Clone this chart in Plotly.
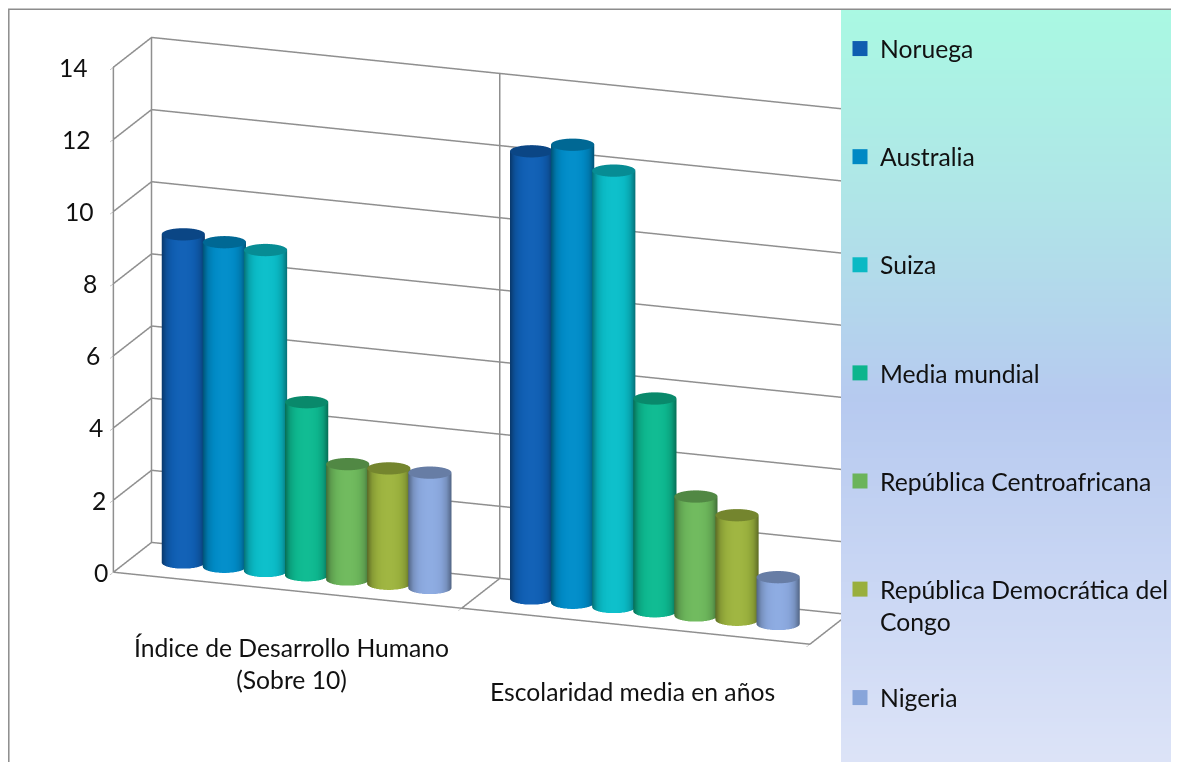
import numpy as np
import plotly.graph_objects as go

FW, FH = 1171, 754   # the page adds an 8 px body margin
W, H = 1179, 762
categories = ["Índice de Desarrollo Humano<br>(Sobre 10)", "Escolaridad media en años"]
series = ["Noruega", "Australia", "Suiza", "Media mundial", "República Centroafricana",
          "República Democrática del<br>Congo", "Nigeria"]
idh = [9.1, 9.0, 8.9, 4.8, 3.2, 3.2, 3.2]
escolaridad = [12.4, 12.7, 12.1, 5.9, 3.3, 2.9, 1.3]
colors = ["#0F5DB0", "#0089C4", "#0AB9C4", "#0DB58D", "#6BB45A", "#99AF3D", "#88A5DA"]
z_ticks = [0, 2, 4, 6, 8, 10, 12, 14]
FONT = "Lato"
FS = 24.7
INK = "#111111"
GRID = "#8f8f8f"


def px(x):
    return (x - 8) / FW


def py(y):
    return 1 - (y - 8) / FH


def rgb(h):
    return np.array([int(h[i:i + 2], 16) for i in (1, 3, 5)], float)


def css(c):
    return "rgb(%d,%d,%d)" % tuple(np.clip(c, 0, 255))


azim = np.radians(20)
elev = np.radians(16.5)
eye_len = 2.0
S = 375.5
dx, dy = 56 / S, 44 / S
view = np.array([np.sin(azim) * np.cos(elev), -np.cos(azim) * np.cos(elev), np.sin(elev)])
right = np.array([np.cos(azim), np.sin(azim), 0])
upv = np.array([-np.sin(elev) * np.sin(azim), np.sin(elev) * np.cos(azim), np.cos(elev)])
cen = -dx * right - dy * upv
eyep = cen + eye_len * view

fig = go.Figure()

# wall and floor rules, built from the axis ticks
gx, gy, gz = [], [], []


def seg(*pts):
    for p in pts:
        gx.append(p[0]); gy.append(p[1]); gz.append(p[2])
    gx.append(None); gy.append(None); gz.append(None)


for t in z_ticks:
    seg((0, 0, t), (0, 1, t), (2, 1, t))
top = z_ticks[-1]
seg((0, 0, 0), (0, 0, top))
seg((0, 1, 0), (0, 1, top))
seg((1, 1, 0), (1, 1, top))
seg((2, 1, 0), (2, 1, top))
seg((0, 0, 0), (2, 0, 0), (2, 1, 0))
seg((1, 0, 0), (1, 1, 0))
fig.add_scatter3d(x=gx, y=gy, z=gz, mode="lines", line=dict(color=GRID, width=3),
                  showlegend=False, hoverinfo="skip")

theta = np.linspace(0, 2 * np.pi, 73)
rx, ry = 0.0583, 0.194
step = 0.118
front = np.arctan2(-np.cos(azim), np.sin(azim))
flat = dict(ambient=1, diffuse=0, specular=0, fresnel=0, roughness=1)

for g, vals in enumerate([idh, escolaridad]):
    for i, v in enumerate(vals):
        cx = g + 0.5 + (i - 3) * step
        cy = 0.5
        c = rgb(colors[i])
        xs = cx + rx * np.cos(theta)
        ys = cy + ry * np.sin(theta)
        X = np.vstack([xs, xs])
        Y = np.vstack([ys, ys])
        Z = np.vstack([np.zeros_like(theta), np.full_like(theta, v)])
        u = np.sin(theta - front)
        sh = np.clip(1 - np.abs(u) ** 2.2, 0, 1)
        scale = [[0, css(c * 0.6)], [0.45, css(c * 0.88)], [0.8, css(c * 1.0)], [1, css(c * 1.02 + 4)]]
        fig.add_surface(x=X, y=Y, z=Z, surfacecolor=np.vstack([sh, sh]), cmin=0, cmax=1, colorscale=scale,
                        showscale=False, hoverinfo="skip", lighting=flat)
        rr = np.array([0, 1.0])
        Xc = cx + rx * np.outer(rr, np.cos(theta))
        Yc = cy + ry * np.outer(rr, np.sin(theta))
        Zc = np.full_like(Xc, v)
        cap = css(c * 0.76)
        fig.add_surface(x=Xc, y=Yc, z=Zc, surfacecolor=np.zeros_like(Xc), cmin=0, cmax=1,
                        colorscale=[[0, cap], [1, cap]], showscale=False, hoverinfo="skip", lighting=flat)

for i, name in enumerate(series):
    fig.add_scatter3d(x=[None], y=[None], z=[None], mode="markers", name=name, showlegend=True,
                      legend="legend2" if i == 6 else "legend", legendgroup=name,
                      marker=dict(symbol="square", size=15, color=colors[i]), hoverinfo="skip")

# right-hand panel (background gradient) and chart border
stops = [(10, "#AAF9E3"), (200, "#B0E5E8"), (400, "#B7CAF0"), (762, "#DDE4F8")]
shapes = [dict(type="rect", xref="paper", yref="paper", x0=px(8.8), x1=1.2, y0=py(9.3), y1=-0.2,
               line=dict(color="#8c8c8c", width=1.5), fillcolor="white", layer="below")]
for y in np.arange(10, H, 4):
    col = [np.interp(y, [s[0] for s in stops], [rgb(s[1])[k] for s in stops]) for k in range(3)]
    shapes.append(dict(type="rect", xref="paper", yref="paper", x0=px(841), x1=1,
                       y0=py(y), y1=py(min(y + 4.5, H)), line=dict(width=0),
                       fillcolor=css(np.array(col)), layer="below"))

axis_common = dict(showbackground=False, showspikes=False, title=dict(text=""), zeroline=False,
                   showline=False, showgrid=False, autorange=False)
txt = dict(family=FONT, size=FS, color=INK)

annots = [
    dict(x=0.5, y=0, z=0, text=categories[0], showarrow=False, xshift=4, yshift=-73, font=txt),
    dict(x=1.5, y=0, z=0, text=categories[1], showarrow=False, xshift=-3, yshift=-65, font=txt),
]
for t in z_ticks:
    annots.append(dict(x=0, y=0, z=t, text=str(t), showarrow=False, xanchor="right",
                       xshift=-3 - 20 * t / 14, font=txt))

fig.update_layout(
    width=FW, height=FH, margin=dict(l=0, r=0, t=0, b=0), paper_bgcolor="white",
    font=txt,
    shapes=shapes,
    scene=dict(
        domain=dict(x=[0, px(841)], y=[0, 1]),
        bgcolor="rgba(0,0,0,0)",
        aspectmode="manual", aspectratio=dict(x=1.966, y=0.296, z=1.397),
        camera=dict(eye=dict(x=eyep[0], y=eyep[1], z=eyep[2]), up=dict(x=0, y=0, z=1),
                    center=dict(x=cen[0], y=cen[1], z=cen[2]),
                    projection=dict(type="orthographic")),
        xaxis=dict(axis_common, range=[0, 2], tickmode="array", tickvals=[0, 1, 2], showticklabels=False,
                   ticks="outside", ticklen=10, tickcolor=GRID),
        yaxis=dict(axis_common, range=[0, 1], tickmode="array", tickvals=[0, 1], showticklabels=False),
        zaxis=dict(axis_common, range=[0, 14], tickmode="array", tickvals=z_ticks, ticks="outside",
                   showticklabels=False, ticklen=8, tickcolor=GRID),
        annotations=annots,
    ),
    legend=dict(x=px(840), y=py(26), xanchor="left", yanchor="top", bgcolor="rgba(0,0,0,0)",
                tracegroupgap=73, valign="top", itemclick=False, font=txt),
    legend2=dict(x=px(840), y=py(675), xanchor="left", yanchor="top", bgcolor="rgba(0,0,0,0)",
                 valign="top", font=txt),
)

fig.write_html("out.html")
